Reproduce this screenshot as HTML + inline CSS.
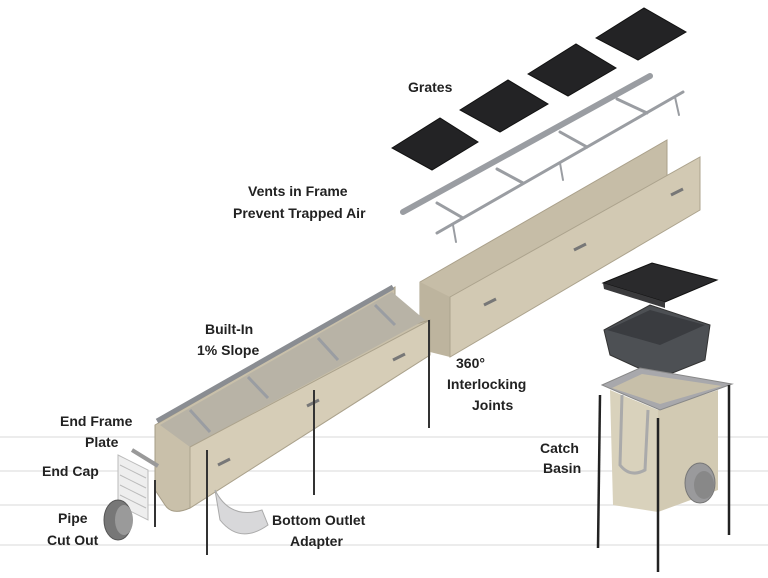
<!DOCTYPE html>
<html><head><style>
body{margin:0;background:#fff}
svg{display:block}
text{font-family:"Liberation Sans",sans-serif;font-weight:bold;font-size:14px;fill:#222}
</style></head><body>
<svg width="768" height="578" viewBox="0 0 768 578">
<g stroke="#e6e6e6" stroke-width="1.5">
<line x1="0" y1="437" x2="768" y2="437"/><line x1="0" y1="471" x2="768" y2="471"/>
<line x1="0" y1="505" x2="768" y2="505"/><line x1="0" y1="545" x2="768" y2="545"/>
</g>
<!-- grates -->
<g fill="#232325" stroke="#111">
<polygon points="392,148 440,118 478,142 432,170"/>
<polygon points="460,110 508,80 548,104 500,132"/>
<polygon points="528,74 576,44 616,68 568,96"/>
<polygon points="596,38 644,8 686,32 638,60"/>
</g>
<!-- upper frame -->
<g stroke="#9a9da2" fill="none" stroke-linecap="round">
<line x1="403" y1="212" x2="650" y2="76" stroke-width="6"/>
<line x1="437" y1="233" x2="683" y2="92" stroke-width="3"/>
<line x1="437" y1="203" x2="463" y2="218" stroke-width="3"/>
<line x1="497" y1="169" x2="523" y2="183" stroke-width="3"/>
<line x1="560" y1="132" x2="587" y2="147" stroke-width="3"/>
<line x1="617" y1="99" x2="647" y2="113" stroke-width="3"/>
<line x1="453" y1="225" x2="456" y2="242" stroke-width="2"/>
<line x1="560" y1="163" x2="563" y2="180" stroke-width="2"/>
<line x1="675" y1="97" x2="679" y2="115" stroke-width="2"/>
</g>
<!-- upper channel -->
<polygon points="420,282 667,140 667,195 420,348" fill="#c6bda7" stroke="#aaa08a"/>
<polygon points="420,282 450,297 450,357 430,352 420,345" fill="#bdb49e"/>
<polygon points="450,297 700,157 700,210 450,357" fill="#d2c9b3" stroke="#aca38d"/>
<g stroke="#777" stroke-width="3"><line x1="484" y1="305" x2="496" y2="299"/><line x1="574" y1="250" x2="586" y2="244"/><line x1="671" y1="195" x2="683" y2="189"/></g>
<!-- lower channel -->
<path d="M155,425 L395,287 L395,330 L430,320 L430,355 L190,508 Q172,516 165,505 L155,490 Z" fill="#c9c0aa" stroke="#a59c86"/>
<polygon points="160,425 392,292 425,320 190,447" fill="#b8b3a6"/>
<polygon points="190,447 430,320 430,355 190,508" fill="#d6cdb7" stroke="#aca38d"/>
<line x1="157" y1="421" x2="393" y2="287" stroke="#8a8d92" stroke-width="5"/>
<g stroke="#9a9da2" stroke-width="3"><line x1="190" y1="410" x2="210" y2="432"/><line x1="248" y1="377" x2="268" y2="398"/><line x1="318" y1="338" x2="338" y2="360"/><line x1="375" y1="305" x2="395" y2="325"/></g>
<g stroke="#777" stroke-width="3"><line x1="218" y1="465" x2="230" y2="459"/><line x1="307" y1="406" x2="319" y2="400"/><line x1="393" y1="360" x2="405" y2="354"/></g>
<!-- legs -->
<g stroke="#333" stroke-width="2">
<line x1="155" y1="480" x2="155" y2="527"/><line x1="207" y1="450" x2="207" y2="555"/>
<line x1="314" y1="390" x2="314" y2="495"/><line x1="429" y1="320" x2="429" y2="428"/>
</g>
<!-- end frame plate / cap -->
<line x1="132" y1="450" x2="158" y2="466" stroke="#999" stroke-width="4"/>
<polygon points="118,455 148,470 148,520 118,505" fill="#eee" stroke="#bbb"/>
<g stroke="#bbb"><line x1="120" y1="465" x2="146" y2="478"/><line x1="120" y1="475" x2="146" y2="488"/><line x1="120" y1="485" x2="146" y2="498"/><line x1="120" y1="495" x2="146" y2="508"/></g>
<ellipse cx="118" cy="520" rx="14" ry="20" fill="#777" stroke="#555"/>
<ellipse cx="124" cy="520" rx="9" ry="15" fill="#9a9a9a"/>
<!-- bottom outlet adapter -->
<path d="M215,490 Q230,520 262,510 L268,525 Q240,545 220,520 Z" fill="#d8d8da" stroke="#aaa"/>
<!-- catch basin -->
<polygon points="603,283 652,263 717,280 665,302" fill="#2a2a2c" stroke="#111"/>
<polygon points="603,283 665,302 665,308 604,289" fill="#3a3a3c"/>
<polygon points="604,330 650,305 710,325 705,360 660,378 610,355" fill="#4d5054" stroke="#333"/>
<polygon points="607,330 650,310 705,325 660,345" fill="#3a3c40"/>
<polygon points="610,390 658,410 658,512 613,505" fill="#d9d2bc"/>
<polygon points="658,410 718,390 718,490 658,512" fill="#d2cab3"/>
<polygon points="602,385 640,368 732,384 660,410" fill="#a8a8ac" stroke="#888"/>
<polygon points="612,388 642,374 722,386 660,404" fill="#c7bfa9"/>
<path d="M622,395 L620,465 Q630,478 645,470 L648,410" fill="none" stroke="#aaa" stroke-width="3"/>
<ellipse cx="700" cy="483" rx="15" ry="20" fill="#9a9a9c" stroke="#777"/>
<ellipse cx="704" cy="485" rx="10" ry="14" fill="#888"/>
<g stroke="#222" stroke-width="2.5">
<line x1="600" y1="395" x2="598" y2="548"/><line x1="658" y1="418" x2="658" y2="572"/>
<line x1="729" y1="385" x2="729" y2="535"/>
</g>
<!-- labels -->
<text x="408" y="92">Grates</text>
<text x="248" y="196">Vents in Frame</text>
<text x="233" y="218">Prevent Trapped Air</text>
<text x="205" y="334">Built-In</text>
<text x="197" y="355">1% Slope</text>
<text x="456" y="368">360°</text>
<text x="447" y="389">Interlocking</text>
<text x="472" y="410">Joints</text>
<text x="60" y="426">End Frame</text>
<text x="85" y="447">Plate</text>
<text x="42" y="476">End Cap</text>
<text x="58" y="523">Pipe</text>
<text x="47" y="545">Cut Out</text>
<text x="540" y="453">Catch</text>
<text x="543" y="473">Basin</text>
<text x="272" y="525">Bottom Outlet</text>
<text x="290" y="546">Adapter</text>
</svg>
</body></html>
